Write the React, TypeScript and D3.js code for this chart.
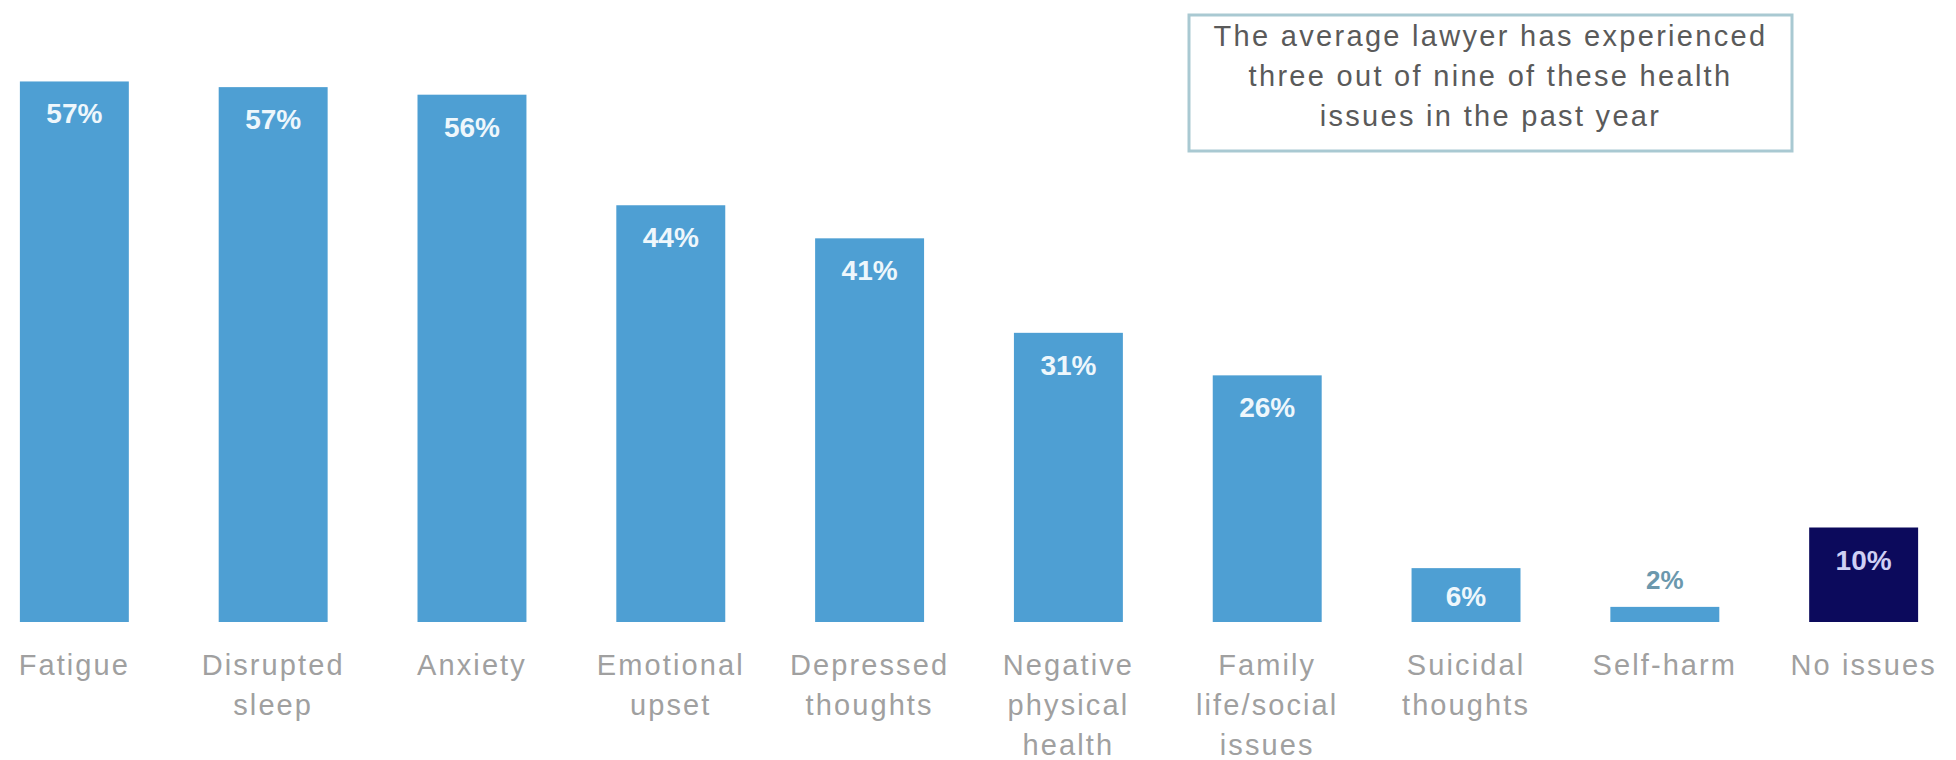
import React from "react";
import * as d3 from "d3";

const categories: string[][] = [
  ["Fatigue"],
  ["Disrupted", "sleep"],
  ["Anxiety"],
  ["Emotional", "upset"],
  ["Depressed", "thoughts"],
  ["Negative", "physical", "health"],
  ["Family", "life/social", "issues"],
  ["Suicidal", "thoughts"],
  ["Self-harm"],
  ["No issues"],
];

const values: number[] = [57.2, 56.6, 55.8, 44.1, 40.6, 30.6, 26.1, 5.7, 1.6, 10.0];

const annotationLines: string[] = [
  "The average lawyer has experienced",
  "three out of nine of these health",
  "issues in the past year",
];

const W = 1956;
const H = 760;
const BASE = 622;

export default function App() {
  const keys = categories.map((c) => c.join(" "));
  const x = d3
    .scaleBand<string>()
    .domain(keys)
    .range([0, 1938])
    .paddingInner(0.452)
    .paddingOuter(0.1);
  const y = d3.scaleLinear().domain([0, 60]).range([BASE, BASE - 60 * 9.45]);

  const font = "'Liberation Sans', Arial, Helvetica, sans-serif";

  return (
    <div style={{ position: "fixed", left: 0, top: 0, width: W, height: H, background: "#fff" }}>
      <svg width={W} height={H} style={{ display: "block" }}>
        <rect x={0} y={0} width={W} height={H} fill="#ffffff" />
        {keys.map((k, i) => {
          const v = values[i];
          const top = y(v);
          const h = BASE - top;
          const bx = x(k) as number;
          const bw = x.bandwidth();
          const dark = k === "No issues";
          const small = h < 30;
          const labelY = small ? top - 18 : Math.min(top + 42, BASE - 16);
          const labelColor = small ? "#6b98ad" : dark ? "#cfd0f5" : "#eef7fc";
          return (
            <g key={k}>
              <rect x={bx} y={top} width={bw} height={h} fill={dark ? "#0c0a5c" : "#4e9fd3"} />
              <text
                x={bx + bw / 2}
                y={labelY}
                textAnchor="middle"
                fontFamily={font}
                fontWeight="bold"
                fontSize={small ? 26 : 28}
                fill={labelColor}
              >
                {Math.round(v) + "%"}
              </text>
              {categories[i].map((line, j) => (
                <text
                  key={j}
                  x={bx + bw / 2}
                  y={675 + j * 40}
                  textAnchor="middle"
                  fontFamily={font}
                  fontSize={29}
                  letterSpacing={2.1}
                  fill="#a0a0a0"
                >
                  {line}
                </text>
              ))}
            </g>
          );
        })}
        <rect x={1189} y={15} width={603} height={136} fill="#ffffff" stroke="#a9c9d2" strokeWidth={3} />
        {annotationLines.map((line, i) => (
          <text
            key={i}
            x={1189 + 603 / 2}
            y={46 + i * 40}
            textAnchor="middle"
            fontFamily={font}
            fontSize={29}
            letterSpacing={2.3}
            fill="#5a5a5a"
          >
            {line}
          </text>
        ))}
      </svg>
    </div>
  );
}
